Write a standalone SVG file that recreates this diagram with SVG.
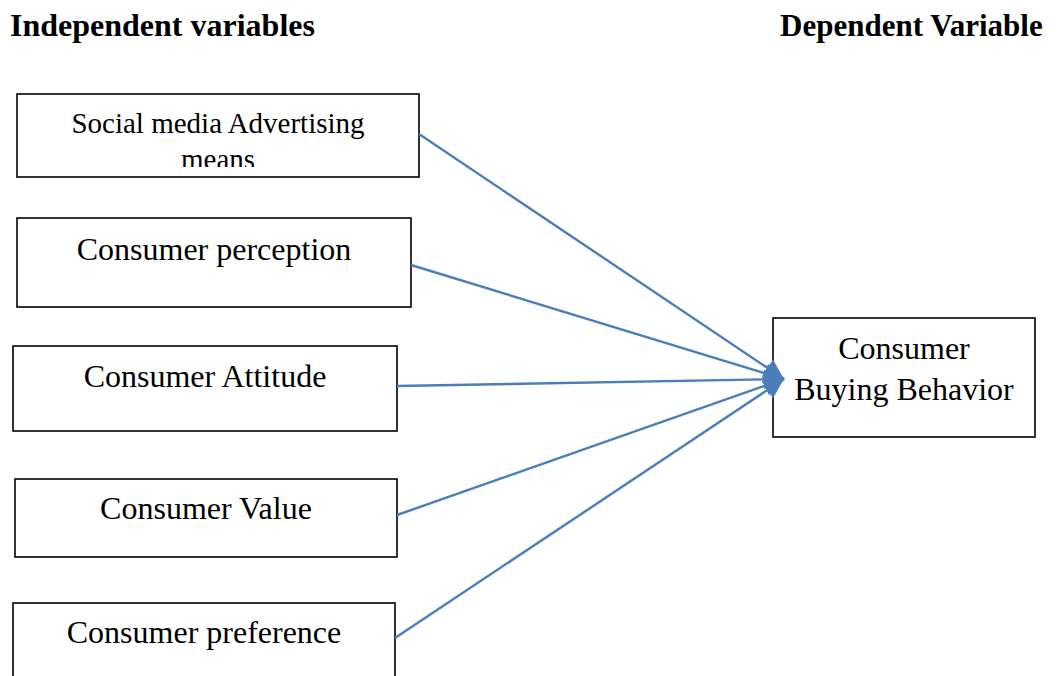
<svg xmlns="http://www.w3.org/2000/svg" width="1059" height="676" viewBox="0 0 1059 676">
  <style>
    .box { fill: #ffffff; stroke: #000000; stroke-width: 1.6; }
    .label { font-family: "Liberation Serif", "Times New Roman", serif; font-size: 32px; fill: #000000; text-anchor: middle; }
    .small { font-size: 29px; }
    .head { font-family: "Liberation Serif", "Times New Roman", serif; font-weight: bold; fill: #000000; }
    .link { fill: none; stroke: #4a7ebb; stroke-width: 2.4; marker-end: url(#arrow); }
  </style>
  <defs>
    <marker id="arrow" markerUnits="userSpaceOnUse" markerWidth="22" markerHeight="20" refX="20" refY="10" orient="auto">
      <path d="M0,0 L20,10 L0,20 Z" fill="#4a7ebb"/>
    </marker>
    <clipPath id="clip-social">
      <rect x="18" y="95" width="400" height="72"/>
    </clipPath>
  </defs>

  <rect width="1059" height="676" fill="#ffffff"/>

  <!-- column headings -->
  <text class="head" x="10" y="36" font-size="32">Independent variables</text>
  <text class="head" x="780" y="36" font-size="31">Dependent Variable</text>

  <g id="social-media-advertising">
    <rect class="box" x="17" y="94" width="402" height="83"/>
    <g clip-path="url(#clip-social)">
      <text class="label small" x="218" y="133">Social media Advertising</text>
      <text class="label small" x="218" y="169">means</text>
    </g>
  </g>

  <g id="consumer-perception">
    <rect class="box" x="17" y="218" width="394" height="89"/>
    <text class="label" x="214" y="260">Consumer perception</text>
  </g>

  <g id="consumer-attitude">
    <rect class="box" x="13" y="346" width="384" height="85"/>
    <text class="label" x="205" y="387">Consumer Attitude</text>
  </g>

  <g id="consumer-value">
    <rect class="box" x="15" y="479" width="382" height="78"/>
    <text class="label" x="206" y="519">Consumer Value</text>
  </g>

  <g id="consumer-preference">
    <rect class="box" x="13" y="603" width="382" height="90"/>
    <text class="label" x="204" y="643">Consumer preference</text>
  </g>

  <g id="consumer-buying-behavior">
    <rect class="box" x="773" y="318" width="262" height="119"/>
    <text class="label" x="904" y="359">Consumer</text>
    <text class="label" x="904" y="400">Buying Behavior</text>
  </g>

  <!-- connectors, drawn last so the arrowheads sit over the target border -->
  <g id="connectors">
    <line class="link" x1="419" y1="134" x2="784" y2="379"/>
    <line class="link" x1="411" y1="265" x2="784" y2="379"/>
    <line class="link" x1="397" y1="386" x2="784" y2="379"/>
    <line class="link" x1="397" y1="515" x2="784" y2="379"/>
    <line class="link" x1="395" y1="638" x2="784" y2="379"/>
  </g>
</svg>
